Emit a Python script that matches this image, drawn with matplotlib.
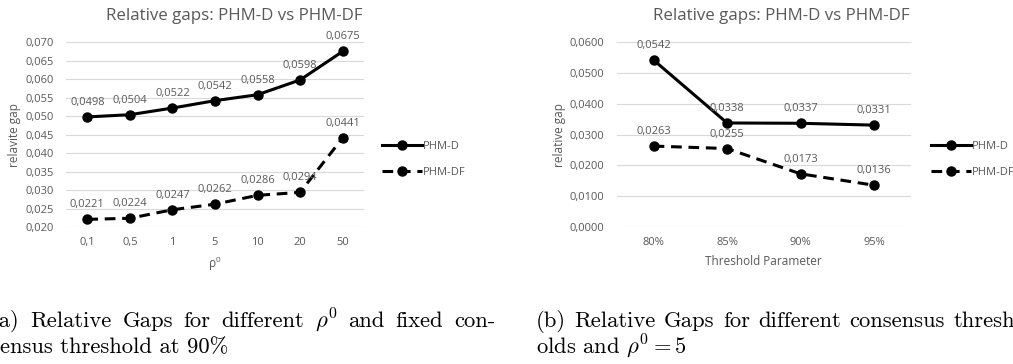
import matplotlib
matplotlib.use("Agg")
import matplotlib.pyplot as plt
from matplotlib.ticker import FuncFormatter, MultipleLocator

# data
rho_labels = ["0,1", "0,5", "1", "5", "10", "20", "50"]
rho_phm_d = [0.0498, 0.0504, 0.0522, 0.0542, 0.0558, 0.0598, 0.0675]
rho_phm_df = [0.0221, 0.0224, 0.0247, 0.0262, 0.0286, 0.0294, 0.0441]

thr_labels = ["80%", "85%", "90%", "95%"]
thr_phm_d = [0.0542, 0.0338, 0.0337, 0.0331]
thr_phm_df = [0.0263, 0.0255, 0.0173, 0.0136]

gray = "#595959"
grid_c = "#d9d9d9"
font = "Open Sans"
plt.rcParams["mathtext.fontset"] = "cm"

W, H = 1013, 364
fig = plt.figure(figsize=(W / 100, H / 100), dpi=100)


def comma(decimals):
    return FuncFormatter(lambda v, p: f"{v:.{decimals}f}".replace(".", ","))


def draw_panel(ax, labels, d_vals, df_vals, ylim, step, decimals, ylabel, xlabel,
               title_x, leg_x):
    x = list(range(len(labels)))
    ax.plot(x, d_vals, color="black", lw=2.2, marker="o", ms=6.5, label="PHM-D", zorder=3)
    ax.plot(x, df_vals, color="black", lw=2.2, ls=(0, (3.5, 2.2)), marker="o", ms=6.5,
            label="PHM-DF", zorder=3)
    for vals in (d_vals, df_vals):
        for xi, v in zip(x, vals):
            ax.annotate(f"{v:.4f}".replace(".", ","), (xi, v), xytext=(0, 6.5),
                        textcoords="offset points", ha="center", va="bottom",
                        fontsize=8, color=gray, family=font)
    ax.set_xlim(-0.5, len(labels) - 0.5)
    ax.set_ylim(*ylim)
    ax.yaxis.set_major_locator(MultipleLocator(step))
    ax.yaxis.set_major_formatter(comma(decimals))
    ax.set_xticks(x)
    ax.set_xticklabels(labels)
    ax.grid(axis="y", color=grid_c, lw=0.8)
    ax.set_axisbelow(True)
    for s in ax.spines.values():
        s.set_visible(False)
    ax.tick_params(length=0, labelsize=8, colors=gray)
    ax.tick_params(axis="y", pad=9)
    ax.tick_params(axis="x", pad=7)
    for t in ax.get_xticklabels() + ax.get_yticklabels():
        t.set_family(font)
    ax.set_ylabel(ylabel, fontsize=8.5, color=gray, family=font, labelpad=3)
    ax.set_xlabel(xlabel, fontsize=8.5, color=gray, family=font, labelpad=5)
    ax.text(title_x, 1 + 26 / 185, "Relative gaps: PHM-D vs PHM-DF", transform=ax.transAxes,
            ha="center", va="center", fontsize=12.2, color=gray, family=font)
    ax.legend(loc="center left", bbox_to_anchor=(leg_x, 0.365), frameon=False,
              borderpad=0, borderaxespad=0,
              handlelength=3.6, handletextpad=0.1, labelspacing=1.35,
              prop={"family": font, "size": 8}, labelcolor=gray)


ax1 = fig.add_axes([0.0652, 0.376, 0.294, 0.508])
draw_panel(ax1, rho_labels, rho_phm_d, rho_phm_df, (0.020, 0.070), 0.005, 3,
           "relavite gap", r"$\mathregular{\rho^0}$", 0.565, 1.06)

ax2 = fig.add_axes([0.609, 0.376, 0.290, 0.508])
draw_panel(ax2, thr_labels, thr_phm_d, thr_phm_df, (0.0, 0.06), 0.01, 4,
           "relative gap", "Threshold Parameter", 0.558, 1.07)

# captions (LaTeX style, justified lines)
cap = dict(fontsize=16.3, family="cmr10", color="black", va="baseline")
renderer = fig.canvas.get_renderer()


def justified(words, x0, x1, y):
    texts = [fig.text(0, 1 - y / H, w, **cap) for w in words]
    widths = [t.get_window_extent(renderer).width for t in texts]
    gap = (x1 - x0 - sum(widths)) / (len(words) - 1)
    x = x0
    for t, w in zip(texts, widths):
        t.set_x(x / W)
        x += w + gap


def plain(s, x0, y):
    fig.text(x0 / W, 1 - y / H, s, **cap)


justified(["(a)", "Relative", "Gaps", "for", "different", r"$\rho^0$", "and", "fixed", "con-"],
          -9, 495, 327)
plain("ensus threshold at 90%", 0, 353)
justified(["(b)", "Relative", "Gaps", "for", "different", "consensus", "thresh"],
          536, 1015, 327)
plain(r"olds and $\rho^0 = 5$", 536, 353)

fig.savefig("out.png", dpi=100)
